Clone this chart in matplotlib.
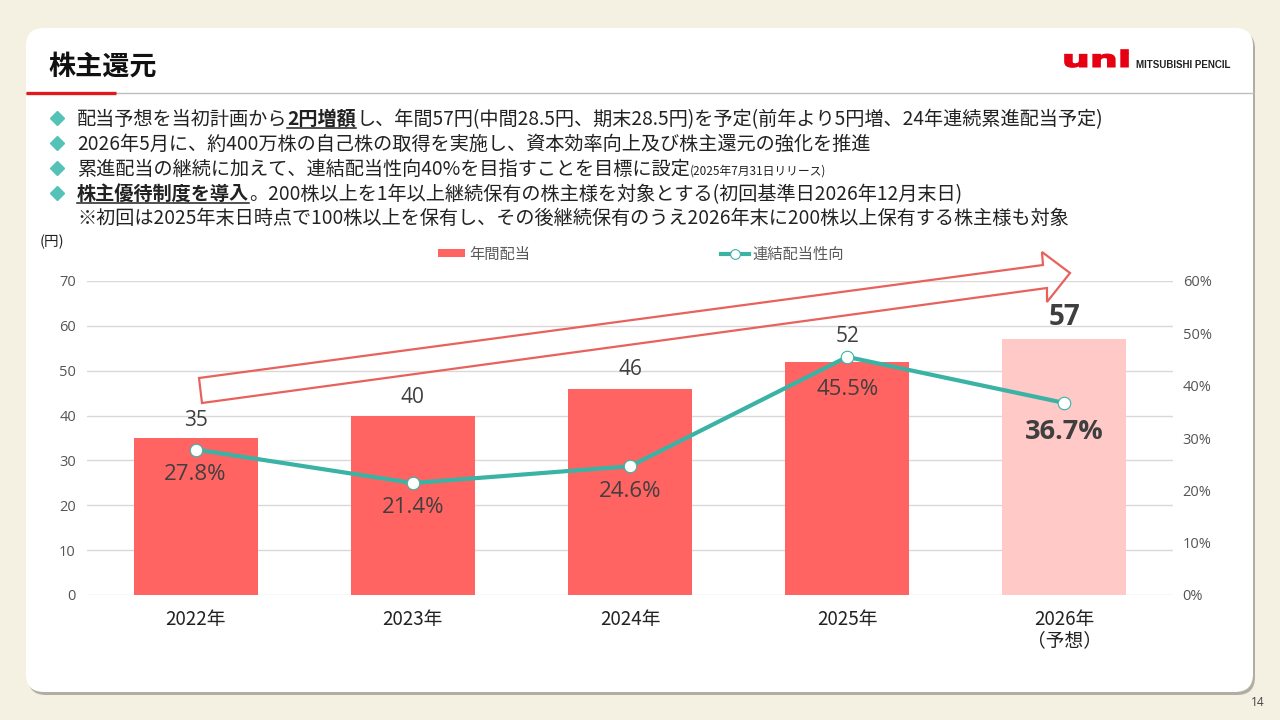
import matplotlib
matplotlib.use('Agg')
import matplotlib.pyplot as plt
from matplotlib.patches import FancyBboxPatch, Polygon, Patch, PathPatch
from matplotlib.lines import Line2D
from matplotlib.transforms import IdentityTransform, Affine2D
from matplotlib.textpath import TextPath
from matplotlib.font_manager import FontProperties

# ---------------- data ----------------
years = ['2022年', '2023年', '2024年', '2025年', '2026年\n（予想）']
dividends = [35, 40, 46, 52, 57]            # 年間配当（円）
payout = [27.8, 21.4, 24.6, 45.5, 36.7]      # 連結配当性向（%）
forecast = [False, False, False, False, True]
left_ticks = [0, 10, 20, 30, 40, 50, 60, 70]
right_ticks = [0, 10, 20, 30, 40, 50, 60]
legend_labels = ['年間配当', '連結配当性向']

# ---------------- style ----------------
W, H = 1280, 720
CJK = ['Noto Sans CJK JP', 'DejaVu Sans']
NUM = ['Open Sans', 'DejaVu Sans']
RED = '#FF6462'
PINK = '#FFC9C7'
TEAL = '#3AB3A5'
DARK = '#222222'
LBL = '#3F3F3F'

plt.rcParams['font.family'] = CJK

fig = plt.figure(figsize=(12.8, 7.2), dpi=100)
fig.patch.set_facecolor('#F4F1E3')
IT = IdentityTransform()


def fx(x):
    return x / W


def fy(y):
    return 1 - y / H


# card with shadow (pixel coordinates)
shadow = FancyBboxPatch((28, H - 695), 1227, 664,
                        boxstyle='round,pad=0,rounding_size=18',
                        facecolor=(0, 0, 0, 0.28), edgecolor='none',
                        transform=IT, zorder=-20)
card = FancyBboxPatch((26, H - 692), 1227, 664,
                      boxstyle='round,pad=0,rounding_size=18',
                      facecolor='white', edgecolor='none',
                      transform=IT, zorder=-10)
fig.add_artist(shadow)
fig.add_artist(card)

# title and header line
fig.text(fx(48), fy(66.5), '株主還元', fontsize=19.5, fontweight='bold',
         color='#111111', va='center', ha='left', family=CJK)
fig.add_artist(Line2D([fx(26), fx(1253)], [fy(93), fy(93)], color='#BDBDBD',
                      lw=1, transform=fig.transFigure))
fig.add_artist(Line2D([fx(26), fx(116)], [fy(92.5), fy(92.5)], color='#E0191B',
                      lw=2.4, transform=fig.transFigure, solid_capstyle='butt'))

# logo: heavy "uni" fitted into its box
tp = TextPath((0, 0), 'uni', size=20,
              prop=FontProperties(family='DejaVu Sans', weight='bold'))
ext = tp.get_extents()
x0, y0, x1, y1 = 1065, 50, 1128, 67
sx = (x1 - x0) / ext.width
sy = (y1 - y0) / ext.height
logo_tf = Affine2D().translate(-ext.x0, -ext.y0).scale(sx, sy).translate(x0, H - y1)
fig.add_artist(PathPatch(tp, facecolor='#E50012', edgecolor='#E50012', lw=1.2,
                         transform=logo_tf + IT))
fig.text(fx(1136), fy(65), 'MITSUBISHI PENCIL', fontsize=7, fontweight='bold',
         color='#222222', va='center', ha='left', family=['Liberation Sans'])

# bullet text
renderer = fig.canvas.get_renderer()


def seg_line(x, ybase, segs, color=DARK):
    for s, kw in segs:
        t = fig.text(fx(x), fy(ybase), s, fontsize=kw.get('size', 13.8),
                     fontweight=kw.get('weight', 'normal'), family=CJK,
                     color=color, va='baseline', ha='left')
        bb = t.get_window_extent(renderer)
        if kw.get('ul'):
            fig.add_artist(Line2D([fx(x), fx(x + bb.width)],
                                  [fy(ybase + 3), fy(ybase + 3)],
                                  color=color, lw=1.1,
                                  transform=fig.transFigure))
        x += bb.width


lines = [
    [('配当予想を当初計画から', {}), ('2円増額', {'weight': 'bold', 'ul': True}),
     ('し、年間57円(中間28.5円、期末28.5円)を予定(前年より5円増、24年連続累進配当予定)', {})],
    [('2026年5月に、約400万株の自己株の取得を実施し、資本効率向上及び株主還元の強化を推進', {})],
    [('累進配当の継続に加えて、連結配当性向40%を目指すことを目標に設定', {}),
     ('(2025年7月31日リリース)', {'size': 8.5})],
    [('株主優待制度を導入', {'weight': 'bold', 'ul': True}),
     ('。200株以上を1年以上継続保有の株主様を対象とする(初回基準日2026年12月末日)', {})],
    [('※初回は2025年末日時点で100株以上を保有し、その後継続保有のうえ2026年末に200株以上保有する株主様も対象', {})],
]
centers = [118, 143, 168, 193, 217]
for i, (segs, yc) in enumerate(zip(lines, centers)):
    seg_line(77, yc + 7, segs)
    if i < 4:
        fig.add_artist(Line2D([fx(57)], [fy(yc)], marker='D', markersize=7.5,
                              color='#55C2B8', transform=fig.transFigure))

fig.text(fx(40), fy(242), '(円)', fontsize=10.5, color=DARK, va='center',
         ha='left', family=CJK)
fig.text(fx(1258), fy(703), '14', fontsize=8.5, color='#444444', va='center',
         ha='center', family=NUM)

# ---------------- chart ----------------
ax = fig.add_axes([fx(87), fy(595), (1173 - 87) / W, (595 - 281) / H])
ax.set_facecolor('none')
x = list(range(len(years)))
colors = [PINK if f else RED for f in forecast]
bars = ax.bar(x, dividends, width=0.57, color=colors, zorder=2)
ax.set_xlim(-0.5, len(years) - 0.5)
ax.set_ylim(0, 70)
ax.set_yticks(left_ticks)
ax.set_yticklabels([str(v) for v in left_ticks], family=NUM, fontsize=10.5,
                   color='#555555')
ax.set_xticks(x)
ax.set_xticklabels(years, family=CJK, fontsize=13.5, color=DARK,
                   linespacing=1.05)
ax.tick_params(axis='y', length=0, pad=8)
ax.tick_params(axis='x', length=0, pad=10)
ax.grid(axis='y', color='#D9D9D9', lw=1, zorder=0)
ax.set_axisbelow(True)
for s in ax.spines.values():
    s.set_visible(False)

bar_dy = [17, 18, 19, 25, 22]
for i, (v, f) in enumerate(zip(dividends, forecast)):
    ax.annotate(str(v), (i, v), xytext=(0, bar_dy[i]), textcoords='offset pixels',
                ha='center', va='center', family=NUM,
                fontsize=20 if f else 15, fontweight='bold' if f else 'normal',
                color=LBL, zorder=5)

ax2 = ax.twinx()
ax2.set_ylim(0, 60)
ax2.set_yticks(right_ticks)
ax2.set_yticklabels([f'{v}%' for v in right_ticks], family=NUM, fontsize=10.5,
                    color='#555555')
ax2.tick_params(axis='y', length=0, pad=7)
for s in ax2.spines.values():
    s.set_visible(False)
line, = ax2.plot(x, payout, color=TEAL, lw=3, marker='o', markersize=9,
                 markerfacecolor='white', markeredgecolor=TEAL,
                 markeredgewidth=0.8, zorder=4)
pct_dy = [25, 24, 25, 33, 29]
for i, (v, f) in enumerate(zip(payout, forecast)):
    ax2.annotate(f'{v:.1f}%', (i, v), xytext=(0, -pct_dy[i]),
                 textcoords='offset pixels', ha='center', va='center',
                 family=NUM, fontsize=19.5 if f else 16,
                 fontweight='bold' if f else 'normal', color=LBL, zorder=5)

# legend
handles = [Patch(facecolor=RED, edgecolor='none'),
           Line2D([], [], color=TEAL, lw=3, marker='o', markersize=7,
                  markerfacecolor='white', markeredgecolor=TEAL,
                  markeredgewidth=0.8)]
leg = ax2.legend(handles, legend_labels, loc='center', ncol=2,
                 bbox_to_anchor=(fx(641), fy(254)),
                 bbox_transform=fig.transFigure, frameon=False,
                 prop={'family': CJK, 'size': 11}, labelcolor='#595959',
                 handlelength=1.8, handleheight=0.45, handletextpad=0.25,
                 columnspacing=12.5)

# growth arrow (decoration, pixel coordinates)
arrow_px = [(199, 378), (1043, 265), (1042, 252), (1070, 273),
            (1047, 302), (1047, 288), (202, 403)]
arrow = Polygon([(fx(a), fy(b)) for a, b in arrow_px], closed=True,
                facecolor='none', edgecolor='#E8625D', lw=1.6,
                transform=fig.transFigure, joinstyle='miter')
fig.add_artist(arrow)

fig.savefig('out.png', dpi=100, facecolor=fig.get_facecolor())
